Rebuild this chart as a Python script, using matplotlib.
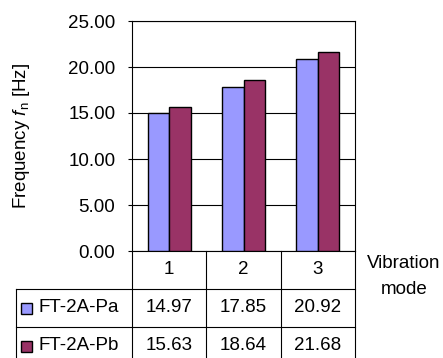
import matplotlib
matplotlib.use("Agg")
import matplotlib.pyplot as plt
from matplotlib.lines import Line2D
from matplotlib.patches import Rectangle
import numpy as np

modes = ["1", "2", "3"]
series_names = ["FT-2A-Pa", "FT-2A-Pb"]
pa = [14.97, 17.85, 20.92]
pb = [15.63, 18.64, 21.68]
yticks = [0, 5, 10, 15, 20, 25]

colors = ["#9999FF", "#993366"]
plt.rcParams["font.family"] = ["Liberation Sans", "DejaVu Sans"]
plt.rcParams["mathtext.fontset"] = "custom"
plt.rcParams["mathtext.it"] = "Liberation Sans:italic"
plt.rcParams["mathtext.rm"] = "Liberation Sans"
FS = 13.5

W, H = 443, 358
fig = plt.figure(figsize=(W / 100, H / 100), dpi=100)

def fx(px):
    return px / W

def fy(py):
    return 1 - py / H

L, R, T, B = 132, 355, 21, 251
ax = fig.add_axes([fx(L), fy(B), fx(R) - fx(L), fy(T) - fy(B)])

x = np.arange(len(modes))
bw = 0.29
for i, (vals, c) in enumerate(zip([pa, pb], colors)):
    ax.bar(x + (i - 0.5) * bw, vals, width=bw, color=c, edgecolor="black",
           linewidth=1.0, zorder=3)

ax.set_xlim(-0.5, len(modes) - 0.5)
ax.set_ylim(0, 25)
ax.set_yticks(yticks)
ax.set_yticklabels([f"{v:.2f}" for v in yticks], fontsize=FS)
ax.set_xticks([])
ax.yaxis.grid(True, color="black", linewidth=0.8, zorder=0)
ax.tick_params(axis="y", length=3, width=0.8, pad=9)
for s in ax.spines.values():
    s.set_linewidth(0.8)

fig.text(fx(22), fy(136), "Frequency $\\mathit{f}$$_{\\rm n}$ [Hz]", rotation=90,
         ha="center", va="center", fontsize=FS)

# table
lw = 0.8
col_edges = [L + (R - L) * k / len(modes) for k in range(len(modes) + 1)]
row_y = [B, 289, 327, 365]
left_x = 16

def hline(y, x0, x1):
    fig.add_artist(Line2D([fx(x0), fx(x1)], [fy(y), fy(y)], color="black", lw=lw))

def vline(xp, y0, y1):
    fig.add_artist(Line2D([fx(xp), fx(xp)], [fy(y0), fy(y1)], color="black", lw=lw))

hline(row_y[1], left_x, R)
hline(row_y[2], left_x, R)
for xe in col_edges:
    vline(xe, B, H + 5)
vline(left_x, row_y[1], H + 5)

for k, m in enumerate(modes):
    cx = (col_edges[k] + col_edges[k + 1]) / 2
    fig.text(fx(cx), fy((row_y[0] + row_y[1]) / 2), m, ha="center", va="center", fontsize=FS)
    for r, vals in enumerate([pa, pb]):
        cy = (row_y[r + 1] + row_y[r + 2]) / 2
        fig.text(fx(cx), fy(cy), f"{vals[k]:.2f}", ha="center", va="center", fontsize=FS)

for r, (name, c) in enumerate(zip(series_names, colors)):
    cy = (row_y[r + 1] + row_y[r + 2]) / 2
    fig.add_artist(Rectangle((fx(21), fy(cy + 5.5)), fx(11), fy(0) - fy(11),
                             facecolor=c, edgecolor="black", lw=1.0))
    fig.text(fx(39), fy(cy), name, ha="left", va="center", fontsize=FS)

fig.text(fx(404), fy(263), "Vibration", ha="center", va="center", fontsize=FS)
fig.text(fx(404), fy(290), "mode", ha="center", va="center", fontsize=FS)

fig.savefig("out.png", dpi=100)
